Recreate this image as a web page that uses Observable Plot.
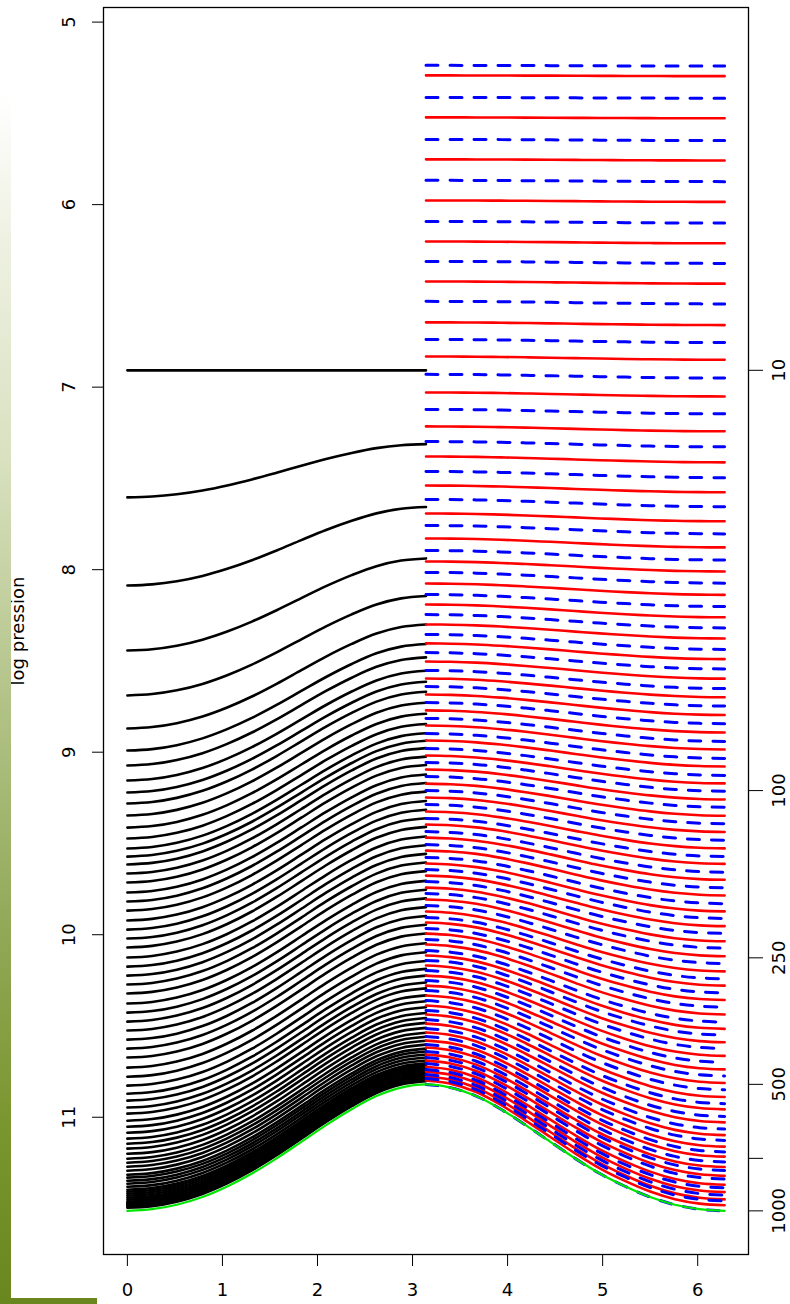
<!DOCTYPE html>
<html>
<head>
<meta charset="utf-8">
<script src="https://cdn.jsdelivr.net/npm/d3@7"></script>
<script src="https://cdn.jsdelivr.net/npm/@observablehq/plot@0.6"></script>
<style>
  html, body { margin: 0; padding: 0; background: #fff; }
  #wrap { position: relative; width: 790px; height: 1304px; overflow: hidden; }
  #wrap svg { position: absolute; left: 0; top: 0; }
  #bar { position: absolute; left: 0; top: 95px; width: 11px; height: 1209px; z-index: 2;
         background: linear-gradient(to bottom, #ffffff 0%, #eef1e2 12%, #d9e1c0 30%, #b3c388 50%, #93aa5a 68%, #7a962f 85%, #6a871f 100%); }
  #foot { position: absolute; left: 0; top: 1298px; width: 97px; height: 6px; z-index: 2; background: #6a871f; }
</style>
</head>
<body>
<div id="wrap"><div id="bar"></div><div id="foot"></div></div>
<script>
// ---- data ----
// horizontal positions where the surface pressure was read
const xSamples = [0, 0.26, 0.52, 0.79, 1.05, 1.31, 1.57, 1.83, 2.09, 2.36, 2.62, 2.88, 3.1416,
                  3.40, 3.67, 3.93, 4.19, 4.45, 4.71, 4.97, 5.24, 5.50, 5.76, 6.02, 6.2832];
// surface pressure (hPa) along x (green curve)
const surfacePressure = [1000, 991, 967, 927, 875, 815, 750, 685, 625, 573, 533, 509, 500,
                         509, 533, 573, 625, 685, 750, 815, 875, 927, 967, 991, 1000];
// sigma-coordinate top pressure (hPa), black lines
const sigmaTop = 10;
// black lines: log pression at x = 0
const sigmaLevelsLnp = [6.908, 7.604, 8.087, 8.443, 8.689, 8.870, 8.991, 9.073, 9.155, 9.221,
  9.281, 9.347, 9.413, 9.473, 9.528, 9.572, 9.615, 9.665, 9.714, 9.769, 9.818, 9.868, 9.922,
  9.972, 10.021, 10.070, 10.125, 10.175, 10.224, 10.273, 10.322, 10.377, 10.427, 10.476, 10.525,
  10.575, 10.624, 10.673, 10.728, 10.778, 10.827, 10.871, 10.909, 10.947, 10.980, 11.019, 11.052,
  11.085, 11.117, 11.145, 11.172, 11.200, 11.227, 11.249, 11.271, 11.293, 11.315, 11.331, 11.348,
  11.364, 11.381, 11.397, 11.408, 11.419, 11.430, 11.441, 11.452, 11.463, 11.468, 11.474, 11.479,
  11.485, 11.490, 11.496];
// red solid lines: log pression at x = pi and at x = 2 pi
const fullLevelsPi = [5.292, 5.522, 5.752, 5.977, 6.202, 6.421, 6.645, 6.832, 7.029, 7.215,
  7.380, 7.539, 7.692, 7.829, 7.955, 8.076, 8.191, 8.300, 8.404, 8.503, 8.596, 8.684, 8.771,
  8.854, 8.936, 9.018, 9.095, 9.172, 9.248, 9.325, 9.396, 9.468, 9.539, 9.610, 9.676, 9.742,
  9.807, 9.873, 9.933, 9.994, 10.054, 10.114, 10.169, 10.224, 10.279, 10.333, 10.388, 10.437,
  10.487, 10.536, 10.580, 10.618, 10.657, 10.690, 10.723, 10.750, 10.777, 10.799];
const fullLevels2Pi = [5.296, 5.527, 5.758, 5.985, 6.212, 6.433, 6.660, 6.850, 7.051, 7.242,
  7.412, 7.576, 7.735, 7.878, 8.010, 8.138, 8.261, 8.377, 8.490, 8.597, 8.699, 8.796, 8.892,
  8.985, 9.078, 9.171, 9.259, 9.348, 9.437, 9.527, 9.612, 9.699, 9.785, 9.872, 9.953, 10.036,
  10.118, 10.201, 10.279, 10.358, 10.437, 10.516, 10.589, 10.664, 10.738, 10.812, 10.889, 10.957,
  11.028, 11.098, 11.161, 11.216, 11.273, 11.321, 11.370, 11.410, 11.450, 11.482];
// blue dashed lines: log pression at x = pi and at x = 2 pi
const halfLevelsPi = [5.237, 5.413, 5.643, 5.867, 6.092, 6.311, 6.530, 6.739, 6.930, 7.122,
  7.298, 7.462, 7.615, 7.758, 7.895, 8.015, 8.136, 8.246, 8.355, 8.454, 8.552, 8.640, 8.728,
  8.815, 8.898, 8.980, 9.056, 9.133, 9.210, 9.287, 9.363, 9.435, 9.506, 9.577, 9.643, 9.709,
  9.774, 9.840, 9.906, 9.966, 10.026, 10.087, 10.141, 10.196, 10.251, 10.306, 10.361, 10.415,
  10.465, 10.514, 10.558, 10.602, 10.640, 10.673, 10.706, 10.739, 10.766, 10.788, 10.820];
const halfLevels2Pi = [5.241, 5.417, 5.649, 5.874, 6.101, 6.322, 6.544, 6.756, 6.950, 7.146,
  7.327, 7.496, 7.655, 7.804, 7.947, 8.074, 8.202, 8.319, 8.437, 8.544, 8.651, 8.747, 8.844,
  8.941, 9.034, 9.127, 9.214, 9.302, 9.392, 9.482, 9.572, 9.658, 9.743, 9.830, 9.911, 9.993,
  10.074, 10.158, 10.242, 10.319, 10.397, 10.479, 10.550, 10.624, 10.699, 10.774, 10.850, 10.926,
  10.996, 11.065, 11.127, 11.190, 11.245, 11.292, 11.339, 11.387, 11.427, 11.459, 11.513];
// axes
const xTicks = [0, 1, 2, 3, 4, 5, 6];
const yTicks = [5, 6, 7, 8, 9, 10, 11];
const pressureTickValues = [10, 100, 250, 500, 750, 1000];   // hPa, right axis
const pressureTickLabels = ["10", "100", "250", "500", "", "1000"];
const yLabel = "log pression";

// ---- build line tables ----
const iPi = xSamples.length >> 1;
const leftX = xSamples.slice(0, iPi + 1), leftPs = surfacePressure.slice(0, iPi + 1);
const rightX = xSamples.slice(iPi), rightPs = surfacePressure.slice(iPi);
const ps0 = surfacePressure[0], psPi = surfacePressure[iPi], ps2Pi = surfacePressure[surfacePressure.length - 1];
const hPa = l => Math.exp(l) / 100;
const lnPa = p => Math.log(p * 100);

const blackRows = [];
sigmaLevelsLnp.forEach((l, k) => {
  const s = (hPa(l) - sigmaTop) / (ps0 - sigmaTop);
  leftX.forEach((x, i) => blackRows.push({id: k, x, y: lnPa(sigmaTop + s * (leftPs[i] - sigmaTop))}));
});
function hybridRows(atPi, at2Pi) {
  const rows = [];
  atPi.forEach((l1, k) => {
    const p1 = hPa(l1), p2 = hPa(at2Pi[k]);
    const b = (p2 - p1) / (ps2Pi - psPi), a = p1 - b * psPi;
    rightX.forEach((x, i) => rows.push({id: k, x, y: lnPa(a + b * rightPs[i])}));
  });
  return rows;
}
const redRows = hybridRows(fullLevelsPi, fullLevels2Pi);
const blueRows = hybridRows(halfLevelsPi, halfLevels2Pi);
const groundRows = xSamples.map((x, i) => ({x, y: lnPa(surfacePressure[i])}));
const rightTickLn = pressureTickValues.map(lnPa);

const chart = Plot.plot({
  width: 790, height: 1304,
  marginLeft: 103, marginRight: 42, marginTop: 7, marginBottom: 50,
  x: {domain: [-0.2513, 6.5345]},
  y: {domain: [4.92, 11.752], reverse: true},
  style: {fontFamily: "'DejaVu Sans', sans-serif", fontSize: "18px", color: "#000", background: "transparent"},
  marks: [
    Plot.line(blackRows, {x: "x", y: "y", z: "id", stroke: "#000", strokeWidth: 2.6, curve: "catmull-rom"}),
    Plot.line(redRows, {x: "x", y: "y", z: "id", stroke: "#ff0000", strokeWidth: 2.6, curve: "catmull-rom"}),
    Plot.line(blueRows, {x: "x", y: "y", z: "id", stroke: "#0000ff", strokeWidth: 3, strokeDasharray: "12,12", curve: "catmull-rom"}),
    Plot.line(groundRows, {x: "x", y: "y", stroke: "#00e600", strokeWidth: 2.2, curve: "catmull-rom"}),
    Plot.frame({stroke: "#000", strokeWidth: 1.3}),
    Plot.axisX({ticks: xTicks, tickSize: 12, tickPadding: 17, tickFormat: d => String(d), label: null, fontSize: 18}),
    Plot.axisY({anchor: "left", ticks: yTicks, tickSize: 11, tickPadding: 18, tickRotate: -90,
                tickFormat: d => String(d), label: null, fontSize: 18}),
    Plot.axisY({anchor: "right", ticks: rightTickLn, tickSize: 14, tickPadding: 22, tickRotate: -90,
                tickFormat: d => pressureTickLabels[rightTickLn.findIndex(v => Math.abs(v - d) < 1e-9)],
                label: null, fontSize: 18}),
    Plot.text([yLabel], {text: d => d, frameAnchor: "left", textAnchor: "middle", dx: -85, rotate: -90, fontSize: 18})
  ]
});
document.getElementById("wrap").prepend(chart);
</script>
</body>
</html>
